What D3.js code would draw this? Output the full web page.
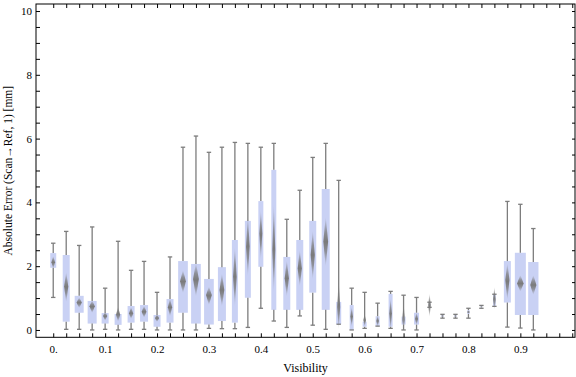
<!DOCTYPE html>
<html>
<head>
<meta charset="utf-8">
<script src="https://cdn.jsdelivr.net/npm/d3@7"></script>
<style>
  body { margin: 0; background: #fff; }
  text { font-family: "Liberation Serif", "DejaVu Serif", serif; }
</style>
</head>
<body>
<div id="chart"></div>
<script>
// visibility bins (one box per bin)
const visibility = [0, 0.025, 0.05, 0.075, 0.1, 0.125, 0.15, 0.175, 0.2, 0.225,
  0.25, 0.275, 0.3, 0.325, 0.35, 0.375, 0.4, 0.425, 0.45, 0.475,
  0.5, 0.525, 0.55, 0.575, 0.6, 0.625, 0.65, 0.675, 0.7, 0.725,
  0.75, 0.775, 0.8, 0.825, 0.85, 0.875, 0.9, 0.925];
const whiskerLow = [1.02, 0.02, 0.02, 0, 0.02, 0, 0.02, 0.02, 0, 0,
  0, 0, 0.05, 0.04, 0.04, 0.08, 0.68, 0.28, 0.08, 0.44,
  0.15, 0.02, 0.18, 0, 0.05, 0.12, 0.05, 0, 0, 0.71,
  0.37, 0.37, 0.37, 0.68, 0.74, 0.09, 0.06, 0];
const quartile1 = [1.95, 0.26, 0.54, 0.2, 0.2, 0.16, 0.23, 0.26, 0.1, 0.23,
  0.54, 0.2, 0.17, 0.28, 0.23, 1.01, 1.98, 0.63, 0.63, 0.63,
  1.17, 0.63, 0.18, 0, 0.1, 0.13, 0.1, 0.17, 0.17, 0.75,
  0.41, 0.41, 0.5, 0.7, 0.74, 0.86, 0.47, 0.47];
const quartile3 = [2.41, 2.35, 1.07, 0.91, 0.53, 0.5, 0.75, 0.78, 0.47, 0.97,
  2.16, 2.07, 1.6, 1.97, 2.82, 3.42, 4.04, 5.02, 2.29, 2.82,
  3.42, 4.42, 0.88, 0.78, 0.26, 0.43, 1.13, 0.42, 0.54, 0.83,
  0.47, 0.47, 0.62, 0.75, 1.12, 2.16, 2.42, 2.13];
const whiskerHigh = [2.72, 3.09, 2.65, 3.23, 1.31, 2.78, 1.87, 2.15, 1.18, 2.29,
  5.73, 6.08, 5.57, 5.73, 5.88, 5.85, 5.73, 5.85, 3.47, 4.38,
  5.41, 5.85, 4.69, 1.31, 1.18, 0.84, 1.21, 1.09, 1.02, 0.87,
  0.49, 0.49, 0.68, 0.77, 1.12, 4.03, 3.94, 3.18];
const meanValue = [2.12, 1.36, 0.86, 0.74, 0.44, 0.48, 0.52, 0.57, 0.37, 0.71,
  1.53, 1.6, 1.1, 1.25, 1.67, 2.61, 3.03, 2.51, 1.62, 1.93,
  2.35, 2.77, 0.73, 0.42, 0.31, 0.28, 0.52, 0.31, 0.34, 0.78,
  0.44, 0.44, 0.56, 0.72, 0.94, 1.57, 1.46, 1.41];
const ciLow = [1.92, 0.87, 0.69, 0.53, 0.29, 0.26, 0.34, 0.38, 0.25, 0.42,
  1.15, 1.04, 0.78, 0.73, 0.73, 1.67, 2.19, 1.15, 1.04, 1.36,
  1.57, 1.98, 0, 0.1, 0.1, 0.12, 0, 0, 0.15, 0.4,
  0.4, 0.4, 0.5, 0.7, 0.63, 0.94, 1.2, 1.1];
const ciHigh = [2.32, 1.82, 1.02, 0.93, 0.57, 0.73, 0.72, 0.76, 0.5, 0.99,
  1.88, 2.1, 1.36, 1.78, 2.61, 3.6, 3.76, 3.97, 2.19, 2.51,
  3.13, 3.55, 1.57, 0.73, 0.5, 0.45, 1.0, 0.85, 0.55, 1.15,
  0.48, 0.48, 0.62, 0.75, 1.36, 2.1, 1.72, 1.72];
// relative sample size of each bin (sets box width)
const sampleWeight = [6, 7, 9, 9, 7, 7, 7, 8, 7, 7,
  9.7, 9.7, 9.7, 8, 6, 6, 5, 5, 7, 7,
  7, 8, 5, 4, 4, 4, 4, 4, 5, 1.5,
  2, 2, 2.3, 1.5, 2.7, 7, 11, 10.3];

const xTicks = d3.range(0, 41).map(i => i / 40);
const xTickLabels = ["0.", "0.1", "0.2", "0.3", "0.4", "0.5", "0.6", "0.7", "0.8", "0.9"];
const yTicks = d3.range(0, 21).map(i => i / 2);
const yTickLabels = ["0", "2", "4", "6", "8", "10"];

const W = 576, H = 377;
const margin = {top: 4, right: 1, bottom: 39.7, left: 36};
const width = W - margin.left - margin.right;
const height = H - margin.top - margin.bottom;

const svg = d3.select("#chart").append("svg")
  .attr("width", W).attr("height", H);

const defs = svg.append("defs");
const grad = defs.append("linearGradient").attr("id", "diamondGrad")
  .attr("x1", 0).attr("y1", 0).attr("x2", 0).attr("y2", 1);
[[0, 0], [0.3, 0.75], [0.5, 1], [0.7, 0.75], [1, 0]].forEach(s => {
  grad.append("stop").attr("offset", s[0])
    .attr("stop-color", "#7a7a7a").attr("stop-opacity", s[1]);
});

const g = svg.append("g").attr("transform", "translate(" + margin.left + "," + margin.top + ")");

const x = d3.scaleLinear().domain([-0.0332, 1.0053]).range([0, width]);
const y = d3.scaleLinear().domain([-0.23, 10.22]).range([height, 0]);
const boxW = d3.scaleLinear().domain([0, 1]).range([0, 1]);

const labelX = d => {
  const k = Math.round(d * 10);
  return (Math.abs(d * 10 - k) < 1e-6 && k < xTickLabels.length) ? xTickLabels[k] : "";
};
const labelY = d => {
  const k = Math.round(d / 2);
  return (Math.abs(d / 2 - k) < 1e-6) ? yTickLabels[k] : "";
};

// axes, ticks pointing inside
g.append("g").attr("class", "x axis")
  .attr("transform", "translate(0," + height + ")")
  .call(d3.axisBottom(x).tickValues(xTicks).tickSize(-4).tickPadding(8).tickFormat(labelX));
g.append("g").attr("class", "x2 axis")
  .call(d3.axisTop(x).tickValues(xTicks).tickSize(-4).tickFormat(""));
g.append("g").attr("class", "y axis")
  .call(d3.axisLeft(y).tickValues(yTicks).tickSize(-4).tickPadding(4).tickFormat(labelY));
g.append("g").attr("class", "y2 axis")
  .attr("transform", "translate(" + width + ",0)")
  .call(d3.axisRight(y).tickValues(yTicks).tickSize(-3).tickFormat(""));

g.selectAll(".axis .domain").remove();
g.selectAll(".axis line").attr("stroke", "#000").attr("stroke-width", 1);
g.selectAll(".axis text")
  .style("font-family", "'Liberation Serif', serif")
  .style("font-size", "11px").attr("fill", "#000");

g.append("rect").attr("x", 0).attr("y", 0)
  .attr("width", width).attr("height", height)
  .attr("fill", "none").attr("stroke", "#000").attr("stroke-width", 1);

// boxes
const data = visibility.map((v, i) => ({
  v: v, lo: whiskerLow[i], q1: quartile1[i], q3: quartile3[i], hi: whiskerHigh[i],
  mean: meanValue[i], cl: ciLow[i], ch: ciHigh[i], w: sampleWeight[i]
}));

const bw = d => boxW(d.w);
const items = g.append("g").selectAll("g.item").data(data).enter()
  .append("g").attr("class", "item");

items.append("rect")
  .attr("x", d => x(d.v) - bw(d) / 2)
  .attr("y", d => y(d.q3))
  .attr("width", d => bw(d))
  .attr("height", d => Math.max(0.8, y(d.q1) - y(d.q3)))
  .attr("fill", "#c9d1f4");

const wColor = "#7d7d7d";
items.append("line")
  .attr("x1", d => x(d.v)).attr("x2", d => x(d.v))
  .attr("y1", d => y(d.hi)).attr("y2", d => y(d.q3))
  .attr("stroke", wColor).attr("stroke-width", 1.3);
items.append("line")
  .attr("x1", d => x(d.v)).attr("x2", d => x(d.v))
  .attr("y1", d => y(d.q1)).attr("y2", d => y(d.lo))
  .attr("stroke", wColor).attr("stroke-width", 1.3);
items.append("line")
  .attr("x1", d => x(d.v) - 2.2).attr("x2", d => x(d.v) + 2.2)
  .attr("y1", d => y(d.hi)).attr("y2", d => y(d.hi))
  .attr("stroke", wColor).attr("stroke-width", 1.3);
items.append("line")
  .attr("x1", d => x(d.v) - 2.2).attr("x2", d => x(d.v) + 2.2)
  .attr("y1", d => y(d.lo)).attr("y2", d => y(d.lo))
  .attr("stroke", wColor).attr("stroke-width", 1.3);

// mean diamonds
items.append("path")
  .attr("d", d => {
    const cx = x(d.v), hw = Math.max(1.3, bw(d) * 0.3);
    return "M" + cx + "," + y(d.ch) + "L" + (cx + hw) + "," + y(d.mean) +
      "L" + cx + "," + y(d.cl) + "L" + (cx - hw) + "," + y(d.mean) + "Z";
  })
  .attr("fill", "url(#diamondGrad)");

// axis labels
svg.append("text")
  .attr("x", margin.left + width / 2).attr("y", 372)
  .attr("text-anchor", "middle").style("font-size", "12px")
  .text("Visibility");
svg.append("text")
  .attr("transform", "translate(12," + (margin.top + height / 2) + ") rotate(-90)")
  .attr("text-anchor", "middle").style("font-size", "11.5px")
  .text("Absolute Error (Scan\u2192Ref, 1) [mm]");
</script>
</body>
</html>
